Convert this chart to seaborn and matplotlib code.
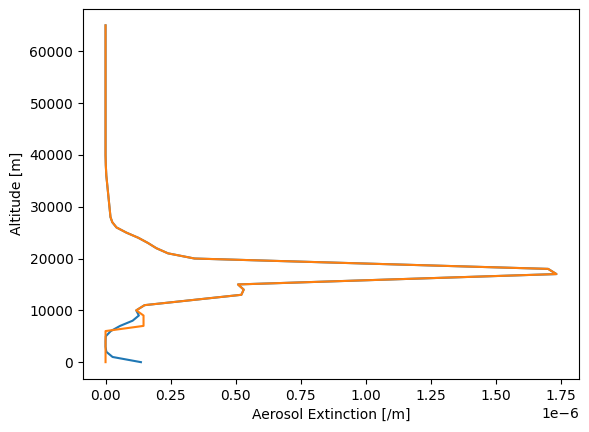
import matplotlib
matplotlib.use("Agg")
import matplotlib.pyplot as plt
import seaborn as sns
import pandas as pd

# altitude grid [m]
altitude = [0, 1000, 2000, 3000, 4000, 5000, 6000, 7000, 8000, 9000,
            10000, 11000, 12000, 13000, 14000, 15000, 16000, 17000, 18000, 19000,
            20000, 21000, 22000, 23000, 24000, 25000, 26000, 27000, 28000, 29000,
            30000, 31000, 32000, 33000, 34000, 35000, 36000, 37000, 38000, 39000,
            40000, 41000, 42000, 43000, 44000, 45000, 46000, 47000, 48000, 49000,
            50000, 51000, 52000, 53000, 54000, 55000, 56000, 57000, 58000, 59000,
            60000, 61000, 62000, 63000, 64000, 65000]

# extinction above 10 km, shared by both profiles [1e-6 /m]
upper_ext = [0.118, 0.150, 0.336, 0.522, 0.531, 0.509, 1.120, 1.733, 1.701, 1.020,
             0.342, 0.240, 0.195, 0.163, 0.126, 0.080, 0.042, 0.026, 0.019, 0.017,
             0.015, 0.013, 0.011, 0.009, 0.007, 0.005, 0.003, 0.002, 0.001, 0.0005,
             0.0, 0.0, 0.0, 0.0, 0.0, 0.0, 0.0, 0.0, 0.0, 0.0,
             0.0, 0.0, 0.0, 0.0, 0.0, 0.0, 0.0, 0.0, 0.0, 0.0,
             0.0, 0.0, 0.0, 0.0, 0.0, 0.0]

# lowest 10 km (0 .. 9000 m)
lower_ext_a = [0.136, 0.027, 0.003, 0.0, 0.0, 0.001, 0.020, 0.056, 0.104, 0.128]
lower_ext_b = [0.0, 0.0, 0.0, 0.0, 0.0, 0.0, 0.0, 0.146, 0.146, 0.146]

ext_a = [v * 1e-6 for v in lower_ext_a + upper_ext]
ext_b = [v * 1e-6 for v in lower_ext_b + upper_ext]

df = pd.DataFrame({"altitude": altitude, "ext_a": ext_a, "ext_b": ext_b})

fig = plt.figure(figsize=(5.89, 4.32), dpi=100)
ax = fig.add_axes([83 / 589, 1 - 379 / 432, 496 / 589, 370.5 / 432])

sns.lineplot(data=df, x="ext_a", y="altitude", sort=False, estimator=None,
             color="#1f77b4", linewidth=1.5, ax=ax)
sns.lineplot(data=df, x="ext_b", y="altitude", sort=False, estimator=None,
             color="#ff7f0e", linewidth=1.5, ax=ax)

ax.set_xlabel("Aerosol Extinction [/m]")
ax.set_ylabel("Altitude [m]")

fig.savefig("out.png", dpi=100)
